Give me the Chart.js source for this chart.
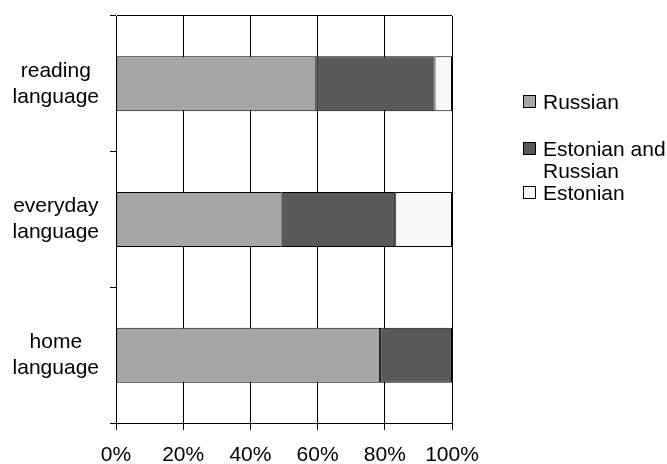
<!DOCTYPE html>
<html>
<head>
<meta charset="utf-8">
<script src="https://cdn.jsdelivr.net/npm/chart.js@4.4.0/dist/chart.umd.min.js"></script>
<style>
  html, body { margin: 0; padding: 0; background: #fff; }
  #wrap { width: 667px; height: 464px; }
</style>
</head>
<body>
<div id="wrap"><canvas id="myChart" width="667" height="464"></canvas></div>
<script>
// languages (top to bottom) and shares in percent
var categories = [['reading', 'language'], ['everyday', 'language'], ['home', 'language']];
var russian = [59.6, 49.3, 78.6];
var estonianRussian = [35.2, 33.8, 21.4];
var estonian = [5.2, 16.9, 0];
var seriesNames = ['Russian', 'Estonian and Russian', 'Estonian'];
var legendLines = [['Russian'], ['Estonian and', 'Russian'], ['Estonian']];
var seriesColors = ['#a6a6a6', '#595959', '#f8f8f8'];
var xTicks = [0, 20, 40, 60, 80, 100];

var FONT = '"Liberation Sans", Arial, sans-serif';

/* legend on the right, drawn by hand */
var sideLegend = {
  id: 'sideLegend',
  afterDraw: function (chart) {
    var ctx = chart.ctx;
    var baselines = [109, 156, 200];
    ctx.save();
    ctx.font = '21px ' + FONT;
    ctx.textBaseline = 'alphabetic';
    chart.data.datasets.forEach(function (ds, i) {
      var y = baselines[i];
      ctx.fillStyle = ds.backgroundColor;
      ctx.fillRect(523.5, y - 13.5, 12, 12);
      ctx.strokeStyle = '#000';
      ctx.lineWidth = 1;
      ctx.strokeRect(523.5, y - 13.5, 12, 12);
      ctx.fillStyle = '#000';
      legendLines[i].forEach(function (t, k) {
        ctx.fillText(t, 543, y + k * 22);
      });
    });
    ctx.restore();
  }
};

var datasets = [russian, estonianRussian, estonian].map(function (vals, i) {
  return {
    label: seriesNames[i],
    data: vals,
    backgroundColor: seriesColors[i],
    borderColor: '#000',
    borderWidth: 1,
    borderSkipped: false,
    barPercentage: 0.405,
    categoryPercentage: 1
  };
});

var ctx = document.getElementById('myChart').getContext('2d');
var chart = new Chart(ctx, {
  type: 'bar',
  data: { labels: categories, datasets: datasets },
  plugins: [sideLegend],
  options: {
    indexAxis: 'y',
    responsive: false,
    animation: false,
    devicePixelRatio: 1,
    layout: { padding: { top: 16, right: 215, left: 0, bottom: 0 } },
    plugins: { legend: { display: false }, tooltip: { enabled: false } },
    scales: {
      x: {
        stacked: true,
        min: 0,
        max: 100,
        afterBuildTicks: function (scale) {
          scale.ticks = xTicks.map(function (v) { return { value: v }; });
        },
        afterFit: function (scale) { scale.height = 41; },
        grid: { color: '#000', lineWidth: 1, tickLength: 7, tickColor: '#000' },
        border: { color: '#000', width: 1 },
        ticks: {
          color: '#000',
          padding: 13,
          maxRotation: 0,
          font: { family: FONT, size: 21 },
          callback: function (v) { return v + '%'; }
        }
      },
      y: {
        stacked: true,
        afterFit: function (scale) {
          scale.width = 116;
          scale.paddingTop = 0;
          scale.paddingBottom = 0;
        },
        grid: {
          offset: true,
          lineWidth: 1,
          tickLength: 6,
          tickColor: '#000',
          color: function (c) { return c.index === 0 ? '#000' : 'rgba(0,0,0,0)'; }
        },
        border: { color: '#000', width: 1 },
        ticks: {
          color: '#000',
          padding: 11,
          crossAlign: 'center',
          font: { family: FONT, size: 21, lineHeight: 1.24 }
        }
      }
    }
  }
});
</script>
</body>
</html>
